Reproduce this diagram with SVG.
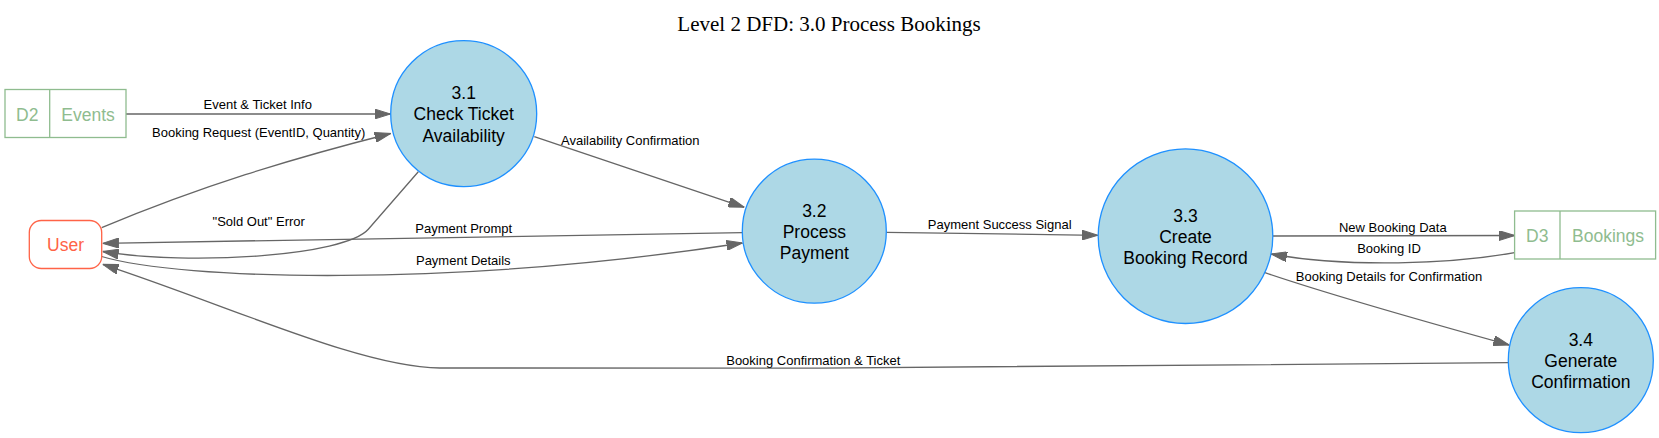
<svg xmlns="http://www.w3.org/2000/svg" width="1659" height="438" viewBox="0 0 1659 438">
<style>
.title{font-family:"Liberation Serif","Times New Roman",serif;font-size:21px;fill:#000;text-anchor:middle}
.proc circle{fill:#ADD8E6;stroke:#1E90FF;stroke-width:1.3}
.proc text{font-family:"Liberation Sans",Arial,sans-serif;font-size:17.5px;fill:#000;text-anchor:middle}
.store rect,.store line{fill:#fff;stroke:#8FBC8F;stroke-width:1.3}
.store text{font-family:"Liberation Sans",Arial,sans-serif;font-size:17.5px;fill:#8FBC8F;text-anchor:middle}
.ext rect{fill:#fff;stroke:#FF6347;stroke-width:1.3}
.ext text{font-family:"Liberation Sans",Arial,sans-serif;font-size:17.5px;fill:#FF6347;text-anchor:middle}
.edge path{fill:none;stroke:#666;stroke-width:1.3;marker-end:url(#arr)}
.lbl{font-family:"Liberation Sans",Arial,sans-serif;font-size:13px;fill:#000;text-anchor:middle}
</style>
<defs>
<marker id="arr" markerUnits="userSpaceOnUse" markerWidth="16" markerHeight="10" refX="16" refY="5" orient="auto">
<path d="M0,0 L16,5 L0,10 z" fill="#666" stroke="#666" stroke-width="1"/>
</marker>
</defs>
<rect width="1659" height="438" fill="#fff"/>
<text class="title" x="829" y="30.7">Level 2 DFD: 3.0 Process Bookings</text>

<g id="connectors">
<g class="edge" id="e_d2_31"><path d="M126,114 L390.5,114"/><text class="lbl" x="257.7" y="109.3">Event &amp; Ticket Info</text></g>
<g class="edge" id="e_user_31"><path d="M101.7,227.7 C200,186.5 290,159 390.7,133.5"/><text class="lbl" x="258.7" y="136.7">Booking Request (EventID, Quantity)</text></g>
<g class="edge" id="e_31_user"><path d="M418.3,171.7 L368.3,229.3 C345,256 190,266 102.7,251.5"/><text class="lbl" x="258.7" y="225.7">"Sold Out" Error</text></g>
<g class="edge" id="e_32_user"><path d="M742.5,232.7 L102.7,243.3"/><text class="lbl" x="463.7" y="233.3">Payment Prompt</text></g>
<g class="edge" id="e_user_32"><path d="M101.7,256.5 C180,280 450,288 742.5,243"/><text class="lbl" x="463.3" y="265">Payment Details</text></g>
<g class="edge" id="e_31_32"><path d="M534.3,136.7 L744.3,207.3"/><text class="lbl" x="630.3" y="145">Availability Confirmation</text></g>
<g class="edge" id="e_32_33"><path d="M886.3,232.3 L1097.7,235.3"/><text class="lbl" x="999.7" y="228.7">Payment Success Signal</text></g>
<g class="edge" id="e_33_d3"><path d="M1273,236 L1514.6,235.5"/><text class="lbl" x="1392.8" y="231.5">New Booking Data</text></g>
<g class="edge" id="e_d3_33"><path d="M1514.6,252.7 C1450,264 1350,268 1271,254"/><text class="lbl" x="1389" y="252.7">Booking ID</text></g>
<g class="edge" id="e_33_34"><path d="M1265,272.7 C1325,293.1 1449.3,328.4 1509.3,345"/><text class="lbl" x="1389" y="280.7">Booking Details for Confirmation</text></g>
<g class="edge" id="e_34_user"><path d="M1508,362.7 C1300,367 800,369 440,368 C360,367 230,306 102.7,264.3"/><text class="lbl" x="813.3" y="365">Booking Confirmation &amp; Ticket</text></g>
</g>

<g id="D2" class="store">
<rect x="5" y="89.5" width="121" height="48"/>
<line x1="49.7" y1="89.5" x2="49.7" y2="137.5"/>
<text x="27.3" y="120.5">D2</text>
<text x="88" y="120.5">Events</text>
</g>

<g id="D3" class="store">
<rect x="1514.6" y="211" width="141" height="48"/>
<line x1="1560" y1="211" x2="1560" y2="259"/>
<text x="1537.3" y="241.5">D3</text>
<text x="1608" y="241.5">Bookings</text>
</g>

<g id="User" class="ext">
<rect x="29.3" y="220.5" width="72.4" height="48" rx="12" ry="12"/>
<text x="65.5" y="250.7">User</text>
</g>

<g id="P3_1" class="proc">
<circle cx="463.7" cy="113.7" r="73"/>
<text x="463.7" y="99">3.1</text>
<text x="463.7" y="120">Check Ticket</text>
<text x="463.7" y="141.5">Availability</text>
</g>

<g id="P3_2" class="proc">
<circle cx="814.3" cy="231.2" r="72"/>
<text x="814.3" y="216.7">3.2</text>
<text x="814.3" y="238">Process</text>
<text x="814.3" y="259">Payment</text>
</g>

<g id="P3_3" class="proc">
<circle cx="1185.5" cy="236.2" r="87.3"/>
<text x="1185.5" y="221.7">3.3</text>
<text x="1185.5" y="242.7">Create</text>
<text x="1185.5" y="263.5">Booking Record</text>
</g>

<g id="P3_4" class="proc">
<circle cx="1580.8" cy="360.2" r="72.5"/>
<text x="1580.8" y="345.7">3.4</text>
<text x="1580.8" y="366.7">Generate</text>
<text x="1580.8" y="387.5">Confirmation</text>
</g>
</svg>
